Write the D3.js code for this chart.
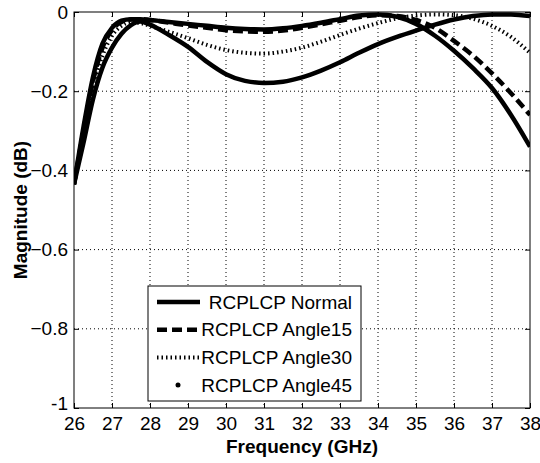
<!DOCTYPE html>
<html>
<head>
<meta charset="utf-8">
<script src="https://cdn.jsdelivr.net/npm/d3@7"></script>
<style>
  body { margin: 0; background: #fff; }
  svg { display: block; font-family: "Liberation Sans", Arial, sans-serif; }
</style>
</head>
<body>
<div id="chart"></div>
<script>
// frequency points (GHz)
const freq = [26, 26.25, 26.5, 26.75, 27, 27.25, 27.5, 27.75, 28, 28.5, 29, 29.5, 30, 30.5, 31, 31.5, 32, 32.5, 33, 33.5, 34, 34.5, 35, 35.5, 36, 36.5, 37, 37.5, 38];

// magnitude (dB)
const normal = [-0.435, -0.29, -0.164, -0.08, -0.04, -0.022, -0.018, -0.018, -0.02, -0.025, -0.03, -0.035, -0.04, -0.043, -0.044, -0.041, -0.035, -0.027, -0.018, -0.009, -0.006, -0.012, -0.03, -0.06, -0.098, -0.142, -0.192, -0.26, -0.34];
const angle15 = [-0.435, -0.30, -0.175, -0.09, -0.045, -0.025, -0.019, -0.018, -0.02, -0.027, -0.034, -0.04, -0.046, -0.049, -0.05, -0.047, -0.04, -0.031, -0.022, -0.013, -0.008, -0.01, -0.02, -0.04, -0.073, -0.11, -0.155, -0.205, -0.26];
const angle30 = [-0.435, -0.31, -0.19, -0.11, -0.06, -0.035, -0.026, -0.028, -0.035, -0.05, -0.066, -0.083, -0.096, -0.103, -0.105, -0.1, -0.09, -0.075, -0.058, -0.042, -0.028, -0.016, -0.009, -0.006, -0.008, -0.017, -0.035, -0.063, -0.103];
const angle45 = [-0.435, -0.33, -0.22, -0.14, -0.09, -0.055, -0.033, -0.024, -0.032, -0.058, -0.088, -0.126, -0.157, -0.174, -0.179, -0.176, -0.165, -0.148, -0.127, -0.103, -0.081, -0.063, -0.047, -0.032, -0.019, -0.01, -0.006, -0.006, -0.01];

const seriesNames = ['RCPLCP Normal', 'RCPLCP Angle15', 'RCPLCP Angle30', 'RCPLCP Angle45'];
const xTicks = d3.range(26, 39, 1);
const yTicks = [0, -0.2, -0.4, -0.6, -0.8, -1];

const width = 540, height = 463;
const margin = { left: 74, top: 12, right: 10, bottom: 55 };
const plotW = width - margin.left - margin.right;   // 456
const plotH = height - margin.top - margin.bottom;  // 396

const scaleX = d3.scaleLinear().domain([26, 38]).range([0, plotW]);
const scaleY = d3.scaleLinear().domain([-1, 0]).range([plotH, 0]);

const svg = d3.select('#chart').append('svg')
    .attr('width', width)
    .attr('height', height);

const g = svg.append('g')
    .attr('transform', 'translate(' + margin.left + ',' + margin.top + ')');

// dotted grid
g.append('g').selectAll('line')
    .data(xTicks.slice(1, -1))
    .enter().append('line')
    .attr('x1', d => scaleX(d)).attr('x2', d => scaleX(d))
    .attr('y1', 0).attr('y2', plotH)
    .attr('stroke', '#000').attr('stroke-width', 1)
    .attr('stroke-dasharray', '1,3');
g.append('g').selectAll('line')
    .data(yTicks.slice(1, -1))
    .enter().append('line')
    .attr('y1', d => scaleY(d)).attr('y2', d => scaleY(d))
    .attr('x1', 0).attr('x2', plotW)
    .attr('stroke', '#000').attr('stroke-width', 1)
    .attr('stroke-dasharray', '1,3');

// axes with inward ticks (matlab style)
const fmtY = d => (d === 0 ? '0' : d === -1 ? '-1' : d3.format('.1f')(d));
const axB = g.append('g').attr('transform', 'translate(0,' + plotH + ')')
    .call(d3.axisBottom(scaleX).tickValues(xTicks).tickSize(-5).tickPadding(9).tickFormat(d3.format('d')));
const axT = g.append('g')
    .call(d3.axisTop(scaleX).tickValues(xTicks).tickSize(-5).tickFormat(''));
const axL = g.append('g')
    .call(d3.axisLeft(scaleY).tickValues(yTicks).tickSize(-5).tickPadding(6).tickFormat(fmtY));
const axR = g.append('g').attr('transform', 'translate(' + plotW + ',0)')
    .call(d3.axisRight(scaleY).tickValues(yTicks).tickSize(-5).tickFormat(''));

[axB, axT, axL, axR].forEach(a => {
  a.select('.domain').remove();
  a.selectAll('line').attr('stroke', '#000');
  a.selectAll('text').attr('fill', '#000').style('font-size', '19px');
});
axB.selectAll('text').attr('dy', '0.71em');
axL.selectAll('text').attr('x', -6);
axL.selectAll('.tick').filter(d => d === -1).select('text').attr('dy', '0.1em');

// box
g.append('rect')
    .attr('width', plotW).attr('height', plotH)
    .attr('fill', 'none').attr('stroke', '#000').attr('stroke-width', 1);

// curves
g.append('clipPath').attr('id', 'clip')
    .append('rect').attr('width', plotW).attr('height', plotH);

const styles = [
  { vals: normal, width: 4.5, dash: null },
  { vals: angle15, width: 4.5, dash: '10,5' },
  { vals: angle30, width: 4, dash: '1.5,3' },
  { vals: angle45, width: 4.5, dash: null }
];

const line = d3.line()
    .x((d, i) => scaleX(freq[i]))
    .y(d => scaleY(d))
    .curve(d3.curveMonotoneX);

g.append('g').attr('clip-path', 'url(#clip)')
    .selectAll('path')
    .data(styles)
    .enter().append('path')
    .attr('fill', 'none')
    .attr('stroke', '#000')
    .attr('stroke-width', d => d.width)
    .attr('stroke-dasharray', d => d.dash)
    .attr('d', d => line(d.vals));

// legend
const leg = g.append('g').attr('transform', 'translate(' + (148 - margin.left) + ',' + (286 - margin.top) + ')');
leg.append('rect')
    .attr('width', 213).attr('height', 115)
    .attr('fill', '#fff').attr('stroke', '#000').attr('stroke-width', 1);

const rows = leg.selectAll('.row')
    .data(seriesNames)
    .enter().append('g')
    .attr('transform', (d, i) => 'translate(0,' + (16 + i * 27.7) + ')');

rows.each(function(d, i) {
  const r = d3.select(this);
  if (i < 3) {
    r.append('line')
        .attr('x1', 9).attr('x2', 52).attr('y1', 0).attr('y2', 0)
        .attr('stroke', '#000')
        .attr('stroke-width', styles[i].width)
        .attr('stroke-dasharray', styles[i].dash);
  } else {
    r.append('circle').attr('cx', 30).attr('cy', 0).attr('r', 2.5).attr('fill', '#000');
  }
  r.append('text')
      .attr('x', 204).attr('y', 0)
      .attr('dy', '0.35em')
      .attr('text-anchor', 'end')
      .style('font-size', '19px')
      .text(d);
});

// axis titles
svg.append('text')
    .attr('x', margin.left + plotW / 2)
    .attr('y', 453)
    .attr('text-anchor', 'middle')
    .style('font-size', '19px').style('font-weight', 'bold')
    .text('Frequency (GHz)');

svg.append('text')
    .attr('transform', 'translate(27,210) rotate(-90)')
    .attr('text-anchor', 'middle')
    .style('font-size', '19px').style('font-weight', 'bold')
    .text('Magnitude (dB)');
</script>
</body>
</html>
